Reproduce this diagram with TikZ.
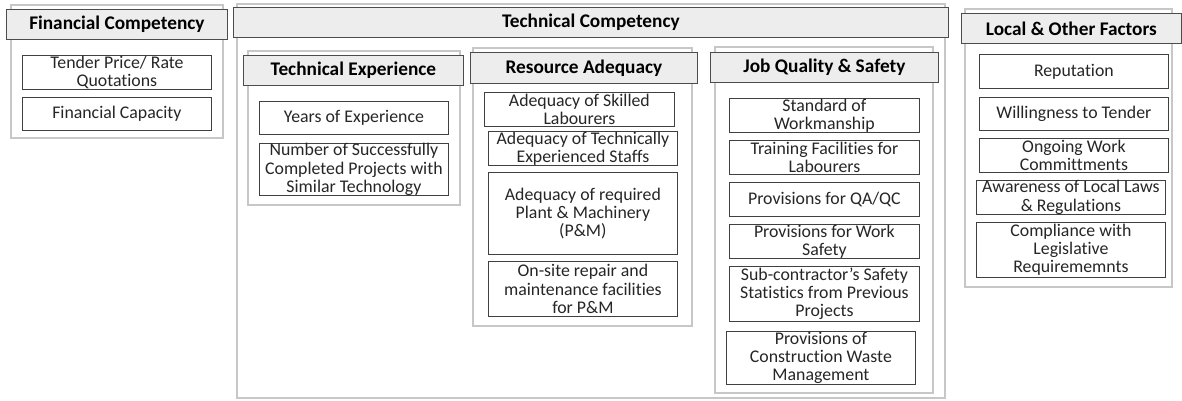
\documentclass[tikz,border=0pt]{standalone}
\usepackage{fontspec}
\setmainfont{Carlito}[Ligatures=NoCommon]
\usetikzlibrary{positioning}

\tikzset{
  panel/.style={draw=black!22, line width=1.1pt, fill=white},
  header/.style={draw=black!70, fill=black!7, line width=0.8pt, anchor=north west, inner sep=0pt,
    font=\fontsize{19.3}{19.5}\selectfont\bfseries},
  item/.style={draw=black!75, fill=white, line width=0.8pt, anchor=north west, inner sep=0pt,
    align=center, text=black!85, font=\fontsize{17.8}{18.3}\selectfont}
}

\begin{document}
\begin{tikzpicture}[x=1pt, y=-1pt]
\useasboundingbox (0,0) rectangle (1182,400);

  \begin{scope}
\draw [panel] (11,5) rectangle (223,138);
\node[header, minimum width=221, minimum height=30] (fincomp) at (6,9) {Financial Competency};
\node[item, minimum width=189, minimum height=34] (tender) at (22,55) {Tender Price/ Rate\\Quotations};
\node[item, minimum width=189, minimum height=33] (fincap) at (22,97) {Financial Capacity};
\end{scope}

  \begin{scope}
\draw [panel] (237,4) rectangle (945,398);
\node[header, minimum width=715, minimum height=30] (techcomp) at (233,7) {Technical Competency};

% technical experience
\draw [panel] (248,51) rectangle (460,205);
\node[header, minimum width=220, minimum height=30] (techexp) at (243,55) {Technical Experience};
\node[item, minimum width=189, minimum height=33] (years) at (259,101) {Years of Experience};
\node[item, minimum width=189, minimum height=52] (projects) at (259,143) {Number of Successfully\\Completed Projects with\\Similar Technology};

% resource adequacy
\draw [panel] (473,48) rectangle (692,326);
\node[header, minimum width=227, minimum height=31] (resadeq) at (470,52) {Resource Adequacy};
\node[item, minimum width=190, minimum height=34] (skilled) at (484,92) {Adequacy of Skilled\\Labourers};
\node[item, minimum width=189, minimum height=34] (staffs) at (488,131) {Adequacy of Technically\\Experienced Staffs};
\node[item, minimum width=189, minimum height=82] (plant) at (488,172) {Adequacy of required\\Plant \& Machinery\\(P\&M)};
\node[item, minimum width=189, minimum height=55] (repair) at (488,261) {On-site repair and\\maintenance facilities\\for P\&M};

% job quality
\draw [panel] (715,47) rectangle (933,393);
\node[header, minimum width=228, minimum height=30] (jobqual) at (710,52) {Job Quality \& Safety};
\node[item, minimum width=190, minimum height=34] (workman) at (729,98) {Standard of\\Workmanship};
\node[item, minimum width=190, minimum height=34] (training) at (729,140) {Training Facilities for\\Labourers};
\node[item, minimum width=190, minimum height=34] (qaqc) at (729,182) {Provisions for QA/QC};
\node[item, minimum width=190, minimum height=34] (worksafe) at (729,224) {Provisions for Work\\Safety};
\node[item, minimum width=190, minimum height=55] (stats) at (729,266) {Sub-contractor’s Safety\\Statistics from Previous\\Projects};
\node[item, minimum width=189, minimum height=53] (waste) at (726,331) {Provisions of\\Construction Waste\\Management};
\end{scope}

  \begin{scope}
\draw [panel] (965,9) rectangle (1172,287);
\node[header, minimum width=220, minimum height=30] (localfac) at (961,13) {Local \& Other Factors};
\node[item, minimum width=189, minimum height=34] (reput) at (979,54) {Reputation};
\node[item, minimum width=189, minimum height=33] (willing) at (979,97) {Willingness to Tender};
\node[item, minimum width=189, minimum height=34] (ongoing) at (979,138) {Ongoing Work\\Committments};
\node[item, minimum width=189, minimum height=33] (laws) at (976,180) {Awareness of Local Laws\\\& Regulations};
\node[item, minimum width=189, minimum height=55] (comply) at (976,222) {Compliance with\\Legislative\\Requirememnts};
\end{scope}

\end{tikzpicture}
\end{document}
